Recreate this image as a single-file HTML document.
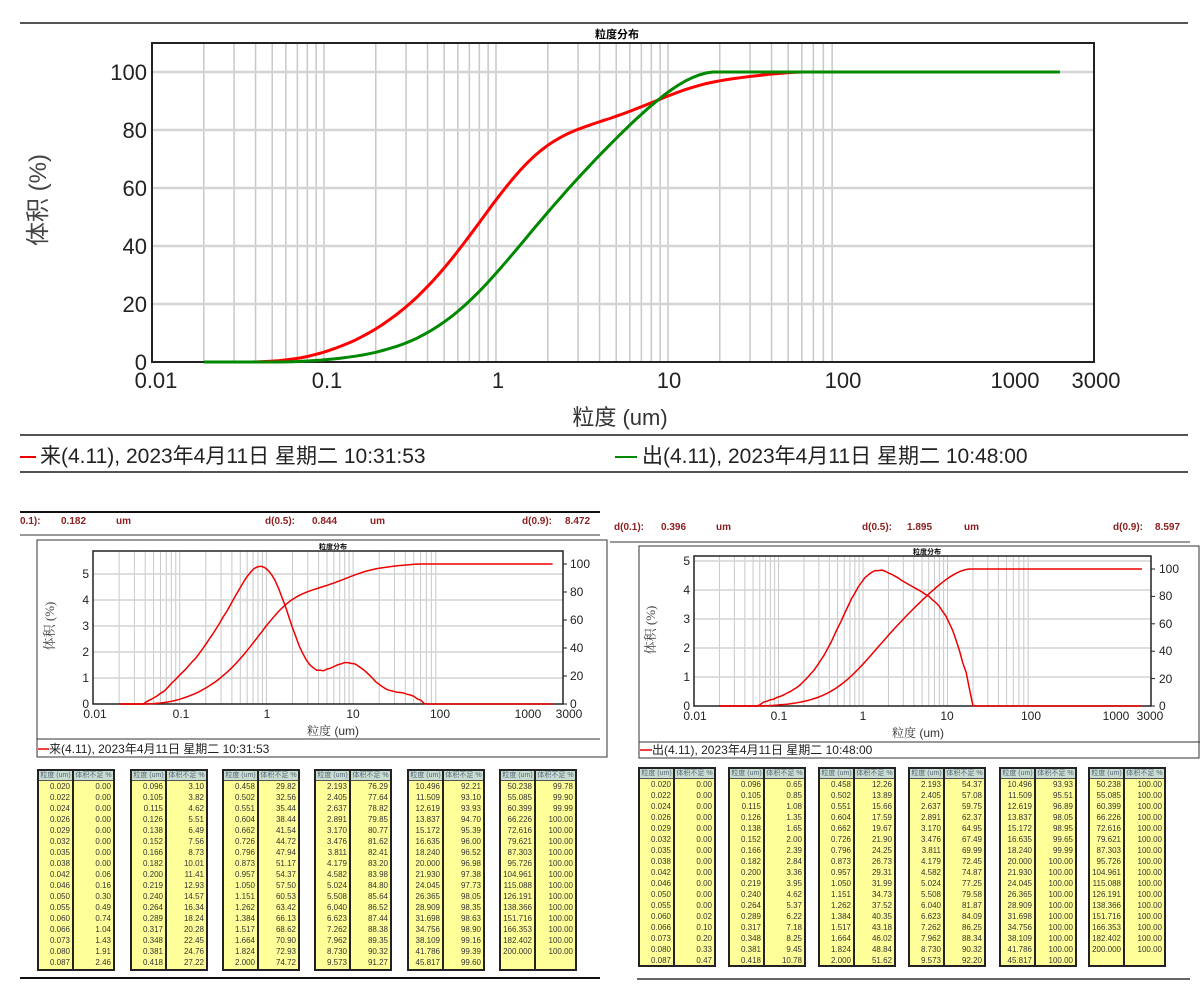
<!DOCTYPE html>
<html><head><meta charset="utf-8">
<style>
body{margin:0;width:1200px;height:1000px;background:#fff;overflow:hidden;position:relative;font-family:"Liberation Sans","Noto Sans CJK SC",sans-serif}
svg{position:absolute;left:0;top:0}
.t{position:absolute;width:78px;height:202px;border:2px solid #222;background:#ffff99;display:flex;box-sizing:border-box;overflow:hidden}
.c{box-sizing:border-box;text-align:right;font:8px/11px "Liberation Sans",sans-serif;color:#333}
.c1{width:35px;border-right:2px solid #222}
.c2{flex:1}
.h{background:#c9dcd2;font:7px/9px "Liberation Sans","Noto Sans CJK SC",sans-serif;color:#567;text-align:center;border-bottom:1px solid #555;height:10px;box-sizing:border-box;white-space:nowrap;overflow:hidden}
.b{padding-right:2px}
.d{position:absolute;font:bold 10px "Liberation Sans",sans-serif;color:#8b2020}
</style></head><body>
<svg id="s" width="1200" height="1000" xmlns="http://www.w3.org/2000/svg">
<g id="grid"></g>
<line x1="20" y1="23" x2="1188" y2="23" stroke="#555" stroke-width="2"/>
<text x="617" y="38" font-size="11" font-weight="bold" text-anchor="middle" font-family="Liberation Sans, Noto Sans CJK SC, sans-serif">粒度分布</text>
<rect x="152" y="43" width="942" height="319" fill="none" stroke="#222" stroke-width="2"/>
<g font-family="Liberation Sans, sans-serif" font-size="22" fill="#222" text-anchor="end">
<text x="147" y="80">100</text><text x="147" y="138">80</text><text x="147" y="196">60</text><text x="147" y="254">40</text><text x="147" y="312">20</text><text x="147" y="370">0</text>
</g>
<g font-family="Liberation Sans, sans-serif" font-size="22" fill="#222" text-anchor="middle">
<text x="156" y="388">0.01</text><text x="327" y="388">0.1</text><text x="498" y="388">1</text><text x="669" y="388">10</text><text x="843" y="388">100</text><text x="1015" y="388">1000</text><text x="1096" y="388">3000</text>
</g>
<text x="620" y="425" font-size="22" fill="#333" text-anchor="middle" font-family="Liberation Sans, Noto Sans CJK SC, sans-serif">粒度 (um)</text>
<text transform="translate(46,200) rotate(-90)" font-size="24" fill="#444" text-anchor="middle" font-family="Liberation Sans, Noto Sans CJK SC, sans-serif">体积 (%)</text>
<line x1="20" y1="435" x2="1188" y2="435" stroke="#555" stroke-width="2"/>
<line x1="20" y1="472" x2="1188" y2="472" stroke="#555" stroke-width="2"/>
<line x1="20" y1="457" x2="36" y2="457" stroke="#e00" stroke-width="2"/>
<text x="40" y="463" font-size="21" fill="#222" font-family="Liberation Sans, Noto Sans CJK SC, sans-serif">来(4.11), 2023年4月11日 星期二 10:31:53</text>
<line x1="615" y1="457" x2="637" y2="457" stroke="#080" stroke-width="2"/>
<text x="642" y="463" font-size="21" fill="#222" font-family="Liberation Sans, Noto Sans CJK SC, sans-serif">出(4.11), 2023年4月11日 星期二 10:48:00</text>

<line x1="20" y1="512" x2="600" y2="512" stroke="#111" stroke-width="2"/>
<line x1="20" y1="535" x2="600" y2="535" stroke="#999" stroke-width="2"/>
<rect x="37" y="540" width="570" height="217" fill="none" stroke="#333" stroke-width="1"/>
<line x1="37" y1="739" x2="600" y2="739" stroke="#333" stroke-width="1"/>
<text x="333" y="549" font-size="7" font-weight="bold" text-anchor="middle" font-family="Liberation Sans, Noto Sans CJK SC, sans-serif">粒度分布</text>
<rect x="93" y="551" width="470" height="153" fill="none" stroke="#222" stroke-width="1.5"/>
<g font-family="Liberation Sans, sans-serif" font-size="12" fill="#222" text-anchor="end">
<text x="89" y="578">5</text><text x="89" y="604">4</text><text x="89" y="630">3</text><text x="89" y="656">2</text><text x="89" y="682">1</text><text x="89" y="708">0</text>
</g>
<g font-family="Liberation Sans, sans-serif" font-size="12" fill="#222">
<text x="570" y="568">100</text><text x="570" y="596">80</text><text x="570" y="624">60</text><text x="570" y="652">40</text><text x="570" y="680">20</text><text x="570" y="708">0</text>
</g>
<g font-family="Liberation Sans, sans-serif" font-size="12" fill="#222" text-anchor="middle">
<text x="95" y="718">0.01</text><text x="181" y="718">0.1</text><text x="267" y="718">1</text><text x="353" y="718">10</text><text x="440" y="718">100</text><text x="528" y="718">1000</text><text x="569" y="718">3000</text>
</g>
<text x="333" y="735" font-size="12" fill="#333" text-anchor="middle" font-family="Liberation Sans, Noto Serif CJK SC, sans-serif">粒度 (um)</text>
<text transform="translate(54,626) rotate(-90)" font-size="13" fill="#444" text-anchor="middle" font-family="Liberation Serif, Noto Serif CJK SC, serif">体积 (%)</text>
<line x1="38" y1="749" x2="49" y2="749" stroke="#e00" stroke-width="1.5"/>
<text x="49" y="753" font-size="12" fill="#222" font-family="Liberation Sans, Noto Sans CJK SC, sans-serif">来(4.11), 2023年4月11日 星期二 10:31:53</text>

<line x1="610" y1="542" x2="1190" y2="542" stroke="#999" stroke-width="2"/>
<rect x="639" y="546" width="560" height="212" fill="none" stroke="#333" stroke-width="1"/>
<line x1="639" y1="742" x2="1200" y2="742" stroke="#333" stroke-width="1"/>
<text x="927" y="554" font-size="7" font-weight="bold" text-anchor="middle" font-family="Liberation Sans, Noto Sans CJK SC, sans-serif">粒度分布</text>
<rect x="694" y="556" width="457" height="150" fill="none" stroke="#222" stroke-width="1.5"/>
<g font-family="Liberation Sans, sans-serif" font-size="12" fill="#222" text-anchor="end">
<text x="690" y="565">5</text><text x="690" y="594">4</text><text x="690" y="623">3</text><text x="690" y="652">2</text><text x="690" y="681">1</text><text x="690" y="710">0</text>
</g>
<g font-family="Liberation Sans, sans-serif" font-size="12" fill="#222">
<text x="1159" y="573">100</text><text x="1159" y="600">80</text><text x="1159" y="628">60</text><text x="1159" y="655">40</text><text x="1159" y="683">20</text><text x="1159" y="710">0</text>
</g>
<g font-family="Liberation Sans, sans-serif" font-size="12" fill="#222" text-anchor="middle">
<text x="695" y="720">0.01</text><text x="779" y="720">0.1</text><text x="863" y="720">1</text><text x="947" y="720">10</text><text x="1031" y="720">100</text><text x="1116" y="720">1000</text><text x="1150" y="720">3000</text>
</g>
<text x="918" y="737" font-size="12" fill="#333" text-anchor="middle" font-family="Liberation Sans, Noto Serif CJK SC, sans-serif">粒度 (um)</text>
<text transform="translate(655,630) rotate(-90)" font-size="13" fill="#444" text-anchor="middle" font-family="Liberation Serif, Noto Serif CJK SC, serif">体积 (%)</text>
<line x1="640" y1="750" x2="652" y2="750" stroke="#e00" stroke-width="1.5"/>
<text x="652" y="754" font-size="12" fill="#222" font-family="Liberation Sans, Noto Sans CJK SC, sans-serif">出(4.11), 2023年4月11日 星期二 10:48:00</text>

<line x1="20" y1="978" x2="600" y2="978" stroke="#111" stroke-width="2"/>
<line x1="637" y1="979" x2="1190" y2="979" stroke="#333" stroke-width="1.5"/>
<g id="curves"></g>
</svg>

<div class="d" style="left:20px;top:516px">0.1):</div><div class="d" style="left:61px;top:516px">0.182</div><div class="d" style="left:116px;top:516px">um</div>
<div class="d" style="left:265px;top:516px">d(0.5):</div><div class="d" style="left:312px;top:516px">0.844</div><div class="d" style="left:370px;top:516px">um</div>
<div class="d" style="left:522px;top:516px">d(0.9):</div><div class="d" style="left:565px;top:516px">8.472</div>
<div class="d" style="left:614px;top:522px">d(0.1):</div><div class="d" style="left:661px;top:522px">0.396</div><div class="d" style="left:716px;top:522px">um</div>
<div class="d" style="left:862px;top:522px">d(0.5):</div><div class="d" style="left:907px;top:522px">1.895</div><div class="d" style="left:964px;top:522px">um</div>
<div class="d" style="left:1113px;top:522px">d(0.9):</div><div class="d" style="left:1155px;top:522px">8.597</div>

<div class="t" style="left:37px;top:769px"><div class="c c1"><div class="h">粒度 (um)</div><div class="b">0.020<br>0.022<br>0.024<br>0.026<br>0.029<br>0.032<br>0.035<br>0.038<br>0.042<br>0.046<br>0.050<br>0.055<br>0.060<br>0.066<br>0.073<br>0.080<br>0.087</div></div><div class="c c2"><div class="h">体积不足 %</div><div class="b">0.00<br>0.00<br>0.00<br>0.00<br>0.00<br>0.00<br>0.00<br>0.00<br>0.06<br>0.16<br>0.30<br>0.49<br>0.74<br>1.04<br>1.43<br>1.91<br>2.46</div></div></div>
<div class="t" style="left:130px;top:769px"><div class="c c1"><div class="h">粒度 (um)</div><div class="b">0.096<br>0.105<br>0.115<br>0.126<br>0.138<br>0.152<br>0.166<br>0.182<br>0.200<br>0.219<br>0.240<br>0.264<br>0.289<br>0.317<br>0.348<br>0.381<br>0.418</div></div><div class="c c2"><div class="h">体积不足 %</div><div class="b">3.10<br>3.82<br>4.62<br>5.51<br>6.49<br>7.56<br>8.73<br>10.01<br>11.41<br>12.93<br>14.57<br>16.34<br>18.24<br>20.28<br>22.45<br>24.76<br>27.22</div></div></div>
<div class="t" style="left:222px;top:769px"><div class="c c1"><div class="h">粒度 (um)</div><div class="b">0.458<br>0.502<br>0.551<br>0.604<br>0.662<br>0.726<br>0.796<br>0.873<br>0.957<br>1.050<br>1.151<br>1.262<br>1.384<br>1.517<br>1.664<br>1.824<br>2.000</div></div><div class="c c2"><div class="h">体积不足 %</div><div class="b">29.82<br>32.56<br>35.44<br>38.44<br>41.54<br>44.72<br>47.94<br>51.17<br>54.37<br>57.50<br>60.53<br>63.42<br>66.13<br>68.62<br>70.90<br>72.93<br>74.72</div></div></div>
<div class="t" style="left:314px;top:769px"><div class="c c1"><div class="h">粒度 (um)</div><div class="b">2.193<br>2.405<br>2.637<br>2.891<br>3.170<br>3.476<br>3.811<br>4.179<br>4.582<br>5.024<br>5.508<br>6.040<br>6.623<br>7.262<br>7.962<br>8.730<br>9.573</div></div><div class="c c2"><div class="h">体积不足 %</div><div class="b">76.29<br>77.64<br>78.82<br>79.85<br>80.77<br>81.62<br>82.41<br>83.20<br>83.98<br>84.80<br>85.64<br>86.52<br>87.44<br>88.38<br>89.35<br>90.32<br>91.27</div></div></div>
<div class="t" style="left:407px;top:769px"><div class="c c1"><div class="h">粒度 (um)</div><div class="b">10.496<br>11.509<br>12.619<br>13.837<br>15.172<br>16.635<br>18.240<br>20.000<br>21.930<br>24.045<br>26.365<br>28.909<br>31.698<br>34.756<br>38.109<br>41.786<br>45.817</div></div><div class="c c2"><div class="h">体积不足 %</div><div class="b">92.21<br>93.10<br>93.93<br>94.70<br>95.39<br>96.00<br>96.52<br>96.98<br>97.38<br>97.73<br>98.05<br>98.35<br>98.63<br>98.90<br>99.16<br>99.39<br>99.60</div></div></div>
<div class="t" style="left:499px;top:769px"><div class="c c1"><div class="h">粒度 (um)</div><div class="b">50.238<br>55.085<br>60.399<br>66.226<br>72.616<br>79.621<br>87.303<br>95.726<br>104.961<br>115.088<br>126.191<br>138.366<br>151.716<br>166.353<br>182.402<br>200.000</div></div><div class="c c2"><div class="h">体积不足 %</div><div class="b">99.78<br>99.90<br>99.99<br>100.00<br>100.00<br>100.00<br>100.00<br>100.00<br>100.00<br>100.00<br>100.00<br>100.00<br>100.00<br>100.00<br>100.00<br>100.00</div></div></div>

<div class="t" style="left:638px;top:767px;height:200px"><div class="c c1"><div class="h">粒度 (um)</div><div class="b">0.020<br>0.022<br>0.024<br>0.026<br>0.029<br>0.032<br>0.035<br>0.038<br>0.042<br>0.046<br>0.050<br>0.055<br>0.060<br>0.066<br>0.073<br>0.080<br>0.087</div></div><div class="c c2"><div class="h">体积不足 %</div><div class="b">0.00<br>0.00<br>0.00<br>0.00<br>0.00<br>0.00<br>0.00<br>0.00<br>0.00<br>0.00<br>0.00<br>0.00<br>0.02<br>0.10<br>0.20<br>0.33<br>0.47</div></div></div>
<div class="t" style="left:728px;top:767px;height:200px"><div class="c c1"><div class="h">粒度 (um)</div><div class="b">0.096<br>0.105<br>0.115<br>0.126<br>0.138<br>0.152<br>0.166<br>0.182<br>0.200<br>0.219<br>0.240<br>0.264<br>0.289<br>0.317<br>0.348<br>0.381<br>0.418</div></div><div class="c c2"><div class="h">体积不足 %</div><div class="b">0.65<br>0.85<br>1.08<br>1.35<br>1.65<br>2.00<br>2.39<br>2.84<br>3.36<br>3.95<br>4.62<br>5.37<br>6.22<br>7.18<br>8.25<br>9.45<br>10.78</div></div></div>
<div class="t" style="left:818px;top:767px;height:200px"><div class="c c1"><div class="h">粒度 (um)</div><div class="b">0.458<br>0.502<br>0.551<br>0.604<br>0.662<br>0.726<br>0.796<br>0.873<br>0.957<br>1.050<br>1.151<br>1.262<br>1.384<br>1.517<br>1.664<br>1.824<br>2.000</div></div><div class="c c2"><div class="h">体积不足 %</div><div class="b">12.26<br>13.89<br>15.66<br>17.59<br>19.67<br>21.90<br>24.25<br>26.73<br>29.31<br>31.99<br>34.73<br>37.52<br>40.35<br>43.18<br>46.02<br>48.84<br>51.62</div></div></div>
<div class="t" style="left:908px;top:767px;height:200px"><div class="c c1"><div class="h">粒度 (um)</div><div class="b">2.193<br>2.405<br>2.637<br>2.891<br>3.170<br>3.476<br>3.811<br>4.179<br>4.582<br>5.024<br>5.508<br>6.040<br>6.623<br>7.262<br>7.962<br>8.730<br>9.573</div></div><div class="c c2"><div class="h">体积不足 %</div><div class="b">54.37<br>57.08<br>59.75<br>62.37<br>64.95<br>67.49<br>69.99<br>72.45<br>74.87<br>77.25<br>79.58<br>81.87<br>84.09<br>86.25<br>88.34<br>90.32<br>92.20</div></div></div>
<div class="t" style="left:999px;top:767px;height:200px"><div class="c c1"><div class="h">粒度 (um)</div><div class="b">10.496<br>11.509<br>12.619<br>13.837<br>15.172<br>16.635<br>18.240<br>20.000<br>21.930<br>24.045<br>26.365<br>28.909<br>31.698<br>34.756<br>38.109<br>41.786<br>45.817</div></div><div class="c c2"><div class="h">体积不足 %</div><div class="b">93.93<br>95.51<br>96.89<br>98.05<br>98.95<br>99.65<br>99.99<br>100.00<br>100.00<br>100.00<br>100.00<br>100.00<br>100.00<br>100.00<br>100.00<br>100.00<br>100.00</div></div></div>
<div class="t" style="left:1088px;top:767px;height:200px"><div class="c c1"><div class="h">粒度 (um)</div><div class="b">50.238<br>55.085<br>60.399<br>66.226<br>72.616<br>79.621<br>87.303<br>95.726<br>104.961<br>115.088<br>126.191<br>138.366<br>151.716<br>166.353<br>182.402<br>200.000</div></div><div class="c c2"><div class="h">体积不足 %</div><div class="b">100.00<br>100.00<br>100.00<br>100.00<br>100.00<br>100.00<br>100.00<br>100.00<br>100.00<br>100.00<br>100.00<br>100.00<br>100.00<br>100.00<br>100.00<br>100.00</div></div></div>

<script>
var S=[0.020,0.022,0.024,0.026,0.029,0.032,0.035,0.038,0.042,0.046,0.050,0.055,0.060,0.066,0.073,0.080,0.087,
0.096,0.105,0.115,0.126,0.138,0.152,0.166,0.182,0.200,0.219,0.240,0.264,0.289,0.317,0.348,0.381,0.418,
0.458,0.502,0.551,0.604,0.662,0.726,0.796,0.873,0.957,1.050,1.151,1.262,1.384,1.517,1.664,1.824,2.000,
2.193,2.405,2.637,2.891,3.170,3.476,3.811,4.179,4.582,5.024,5.508,6.040,6.623,7.262,7.962,8.730,9.573,
10.496,11.509,12.619,13.837,15.172,16.635,18.240,20.000,21.930,24.045,26.365,28.909,31.698,34.756,38.109,41.786,45.817,
50.238,55.085,60.399,66.226,72.616,79.621,87.303,95.726,104.961,115.088,126.191,138.366,151.716,166.353,182.402,200.000,2000];
var A=[0,0,0,0,0,0,0,0,0.06,0.16,0.30,0.49,0.74,1.04,1.43,1.91,2.46,
3.10,3.82,4.62,5.51,6.49,7.56,8.73,10.01,11.41,12.93,14.57,16.34,18.24,20.28,22.45,24.76,27.22,
29.82,32.56,35.44,38.44,41.54,44.72,47.94,51.17,54.37,57.50,60.53,63.42,66.13,68.62,70.90,72.93,74.72,
76.29,77.64,78.82,79.85,80.77,81.62,82.41,83.20,83.98,84.80,85.64,86.52,87.44,88.38,89.35,90.32,91.27,
92.21,93.10,93.93,94.70,95.39,96.00,96.52,96.98,97.38,97.73,98.05,98.35,98.63,98.90,99.16,99.39,99.60,
99.78,99.90,99.99];
var B=[0,0,0,0,0,0,0,0,0,0,0,0,0.02,0.10,0.20,0.33,0.47,
0.65,0.85,1.08,1.35,1.65,2.00,2.39,2.84,3.36,3.95,4.62,5.37,6.22,7.18,8.25,9.45,10.78,
12.26,13.89,15.66,17.59,19.67,21.90,24.25,26.73,29.31,31.99,34.73,37.52,40.35,43.18,46.02,48.84,51.62,
54.37,57.08,59.75,62.37,64.95,67.49,69.99,72.45,74.87,77.25,79.58,81.87,84.09,86.25,88.34,90.32,92.20,
93.93,95.51,96.89,98.05,98.95,99.65,99.99];
while(A.length<S.length)A.push(100);while(B.length<S.length)B.push(100);
var NS="http://www.w3.org/2000/svg",G=document.getElementById('grid'),C=document.getElementById('curves');
function el(p,t,a){var e=document.createElementNS(NS,t);for(var k in a)e.setAttribute(k,a[k]);p.appendChild(e);return e}
function grid(x0,dec,right,top,bot,hs,sw){
 for(var e=-2;e<=3;e++)for(var m=1;m<=9;m++){var x=x0+(e+Math.log10(m))*dec;if(x>x0+1&&x<right-1)el(G,'line',{x1:x,y1:top,x2:x,y2:bot,stroke:'#c8c8c8','stroke-width':sw});}
 hs.forEach(function(y){el(G,'line',{x1:x0,y1:y,x2:right,y2:y,stroke:'#d4d4d4','stroke-width':sw*1.6});});
}
function path(pts,col,w){el(C,'polyline',{points:pts.map(function(p){return p[0].toFixed(1)+','+p[1].toFixed(1)}).join(' '),fill:'none',stroke:col,'stroke-width':w,'stroke-linejoin':'round'});}
grid(152,172,1094,43,362,[72,130,188,246,304],1.5);
function tx(v){return 152+(Math.log10(v)+2)*172}
var pr=[],pg=[];
for(var i=0;i<S.length;i++){
 if(S[i]>=0.036&&S[i]<=60.4)pr.push([tx(S[i]),362-A[i]*2.9]);
 if(S[i]<=1900)pg.push([tx(S[i]),362-B[i]*2.9]);
}
pg.push([tx(1900),362-290]);
path(pr,'#f00',3);path(pg,'#080',3);
function small(x0,dec,right,top,bot,uL,uR,D,f){
 var hs=[];for(var k=1;k<=5;k++)hs.push(bot-k*uL);
 grid(x0,dec,right,top,bot,hs,1);
 for(var k=0;k<=100;k+=20)el(G,'line',{x1:right,y1:bot-k*uR,x2:right+4,y2:bot-k*uR,stroke:'#222','stroke-width':1});
 function X(v){return x0+(Math.log10(v)+2)*dec}
 var pc=[],pd=[];
 for(var i=0;i<S.length;i++){var v=Math.min(S[i],2000);pc.push([X(v),bot-D[i]*uR]);var d=i?Math.max(0,D[i]-D[i-1]):0;pd.push([X(v),bot-d*f*uL]);}
 path(pc,'#e00',1.5);path(pd,'#e00',1.5);
}
small(93,86.7,563,551,704,26,1.4,A,1.64);
small(694,84.5,1151,556,706,29,1.37,B,1.65);
</script>
</body></html>
